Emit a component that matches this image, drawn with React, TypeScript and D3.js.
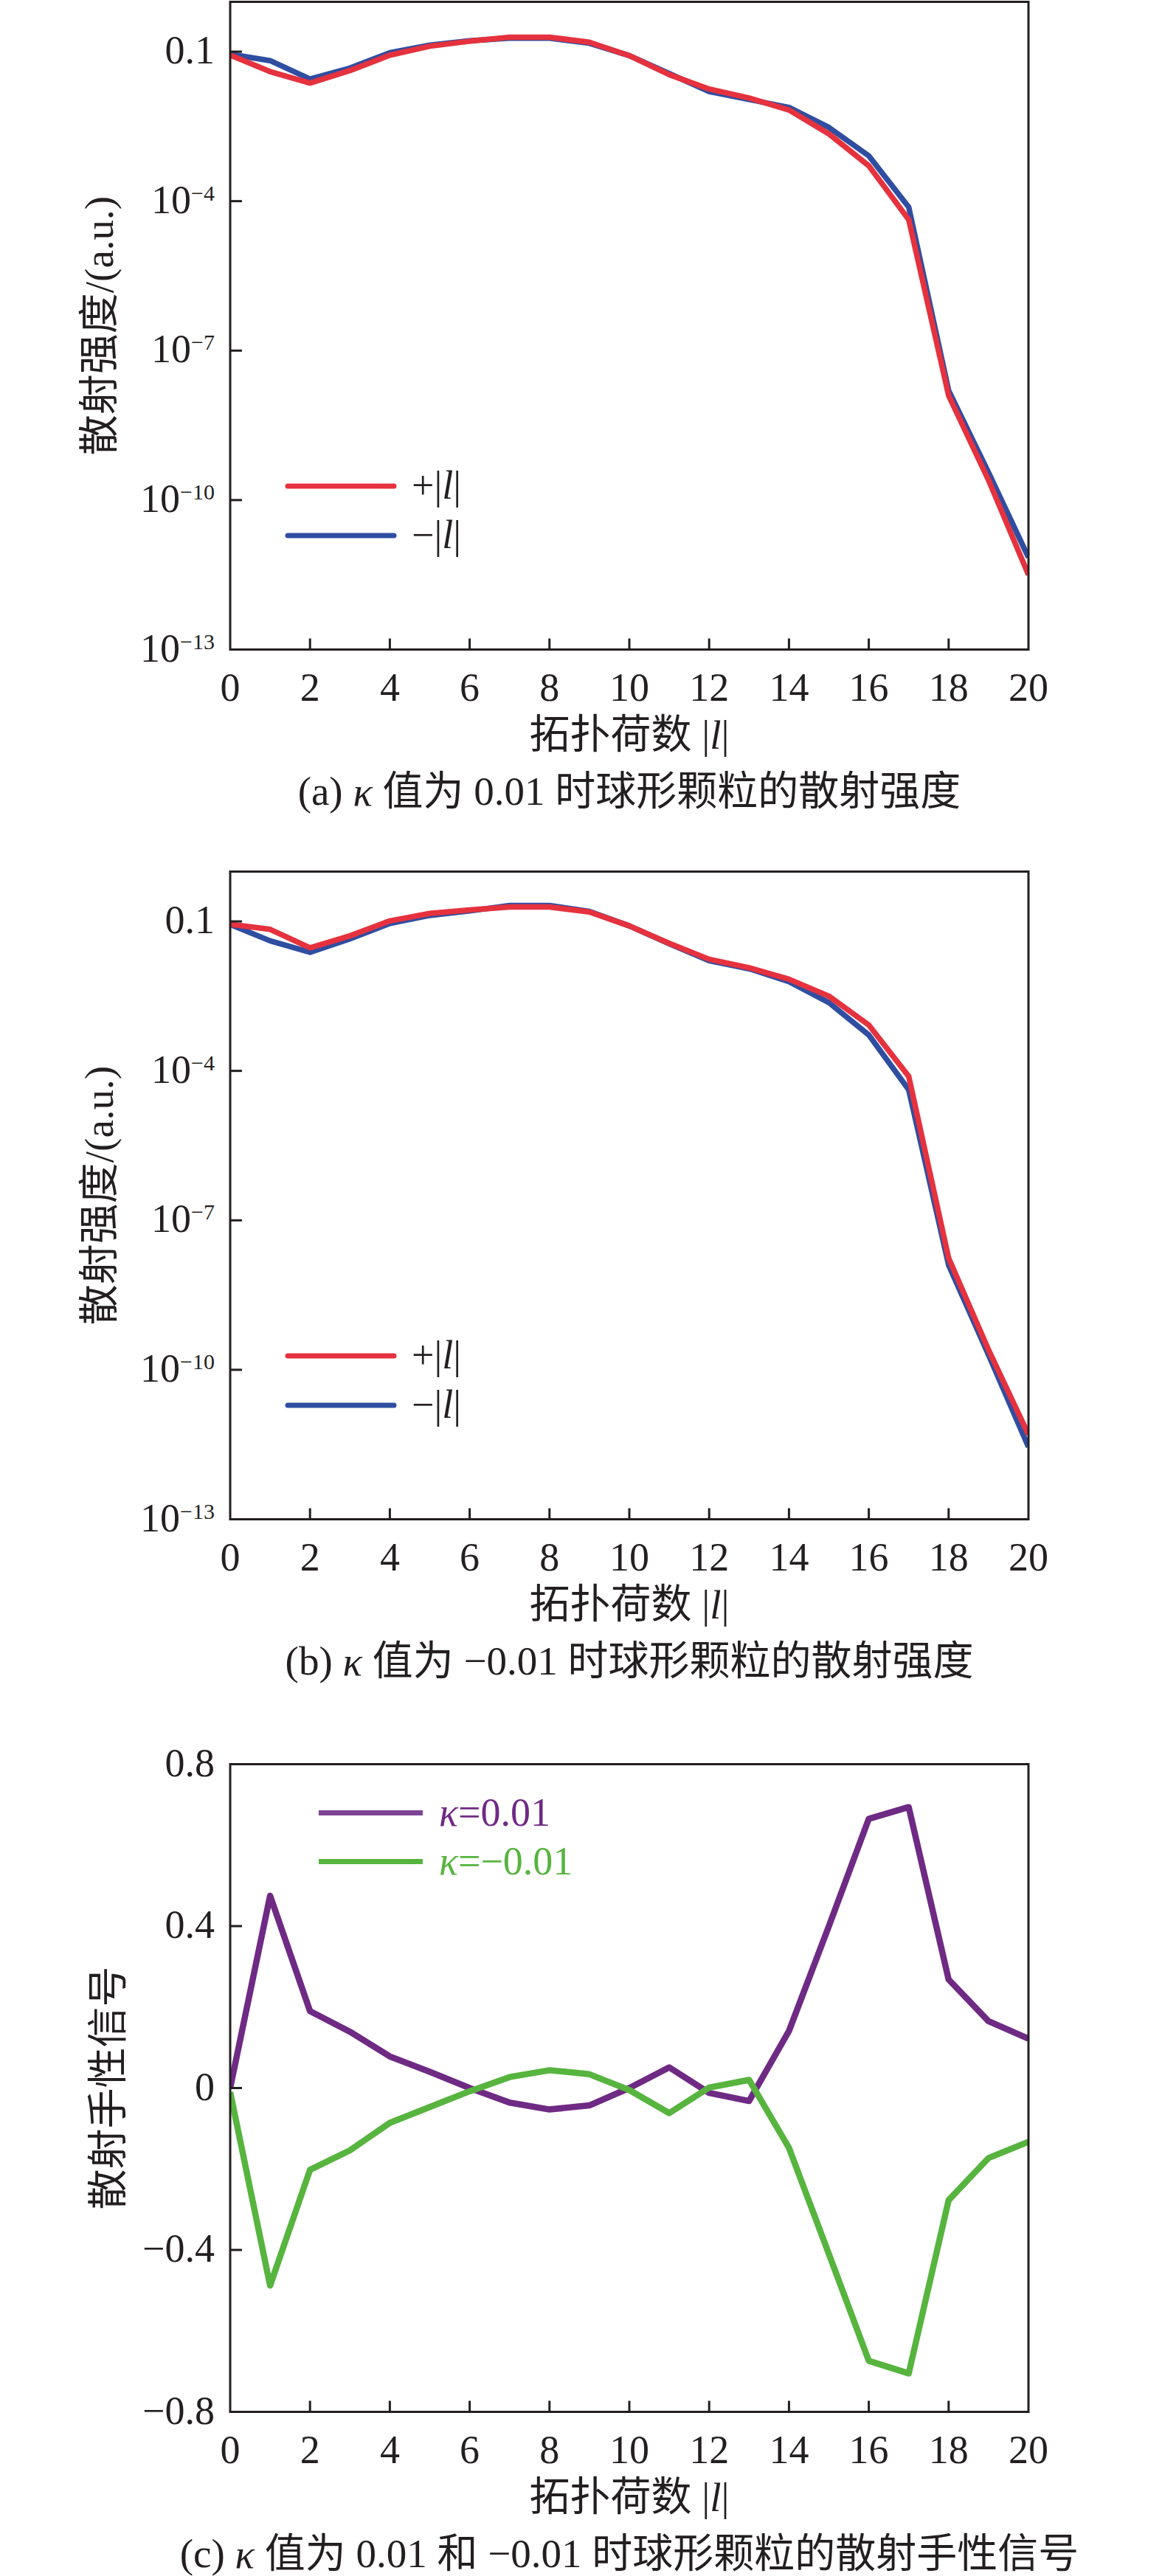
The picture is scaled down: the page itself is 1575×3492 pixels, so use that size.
import * as d3 from "d3";
import type { ReactNode } from "react";

// topological charge l = 0..20
const charges = d3.range(0, 21);
const xTickValues = [0, 2, 4, 6, 8, 10, 12, 14, 16, 18, 20];

// (a) kappa = 0.01, log10 of scattering intensity
const aPlusLog = [-1.07, -1.4, -1.63, -1.38, -1.07, -0.89, -0.79, -0.71, -0.71, -0.81, -1.08, -1.46, -1.75, -1.93, -2.17, -2.65, -3.29, -4.37, -7.9, -9.6, -11.5];
const aMinusLog = [-1.05, -1.18, -1.55, -1.33, -1.02, -0.87, -0.78, -0.73, -0.73, -0.83, -1.08, -1.44, -1.8, -1.96, -2.12, -2.52, -3.09, -4.12, -7.8, -9.45, -11.15];

// (b) kappa = -0.01
const bPlusLog = [-1.06, -1.16, -1.53, -1.29, -0.99, -0.84, -0.77, -0.71, -0.71, -0.81, -1.09, -1.44, -1.76, -1.93, -2.16, -2.5, -3.08, -4.11, -7.76, -9.6, -11.3];
const bMinusLog = [-1.06, -1.39, -1.62, -1.35, -1.04, -0.88, -0.79, -0.68, -0.68, -0.8, -1.09, -1.45, -1.79, -1.95, -2.21, -2.63, -3.28, -4.38, -7.9, -9.7, -11.55];

// (c) chirality signal
const cPos = [0.0, 0.475, 0.19, 0.139, 0.078, 0.04, 0.0, -0.036, -0.053, -0.043, 0.0, 0.051, -0.012, -0.032, 0.141, 0.4, 0.665, 0.694, 0.268, 0.165, 0.122];
const cNeg = [-0.01, -0.488, -0.202, -0.154, -0.086, -0.047, -0.008, 0.027, 0.044, 0.034, -0.005, -0.062, 0.001, 0.02, -0.148, -0.41, -0.674, -0.705, -0.277, -0.173, -0.133];

const logTickExps = [-1, -4, -7, -10, -13];
const linTicks = [0.8, 0.4, 0, -0.4, -0.8];

const INK = "#231f20";
const RED = "#e5323e";
const BLUE = "#2f4ea1";
const PURPLE = "#6f2a84";
const GREEN = "#57b43f";
const SERIF = "'Times New Roman', 'Liberation Serif', 'Noto Sans CJK SC', serif";

const LEFT = 312;
const RIGHT = 1394;
const PH = 878;
const FS = 54;

const x = d3.scaleLinear().domain([0, 20]).range([LEFT, RIGHT]);

interface Series {
  values: number[];
  color: string;
}

interface LegendItem {
  color: string;
  label: ReactNode;
  textColor: string;
  cap: "round" | "butt";
}

function Panel({
  id,
  top,
  y,
  yTicks,
  series,
  lineWidth,
  legend,
  legendX,
  legendY,
  legendGap,
  ylabel,
  ylabelX,
  caption,
}: {
  id: string;
  top: number;
  y: d3.ScaleContinuousNumeric<number, number>;
  yTicks: { v: number; label: ReactNode; inner: boolean }[];
  series: Series[];
  lineWidth: number;
  legend: LegendItem[];
  legendX: [number, number, number];
  legendY: number;
  legendGap: number;
  ylabel: string;
  ylabelX: number;
  caption: ReactNode;
}) {
  const bottom = top + PH;
  const line = d3
    .line<number>()
    .x((_, i) => x(charges[i]))
    .y((d) => y(d));
  return (
    <g>
      <defs>
        <clipPath id={id}>
          <rect x={LEFT} y={top} width={RIGHT - LEFT} height={PH} />
        </clipPath>
      </defs>
      <g clipPath={`url(#${id})`}>
        {series.map((s, i) => (
          <path
            key={i}
            d={line(s.values) ?? ""}
            fill="none"
            stroke={s.color}
            strokeWidth={lineWidth}
            strokeLinejoin="round"
          />
        ))}
      </g>
      <rect x={LEFT} y={top} width={RIGHT - LEFT} height={PH} fill="none" stroke={INK} strokeWidth={3} />
      {xTickValues.map((t) => (
        <g key={t}>
          {t > 0 && t < 20 && <line x1={x(t)} x2={x(t)} y1={bottom} y2={bottom - 15} stroke={INK} strokeWidth={3} />}
          <text x={x(t)} y={bottom + 69} textAnchor="middle" fontSize={FS} fill={INK}>
            {t}
          </text>
        </g>
      ))}
      {yTicks.map((t, i) => (
        <g key={i}>
          {t.inner && <line x1={LEFT} x2={LEFT + 16} y1={y(t.v)} y2={y(t.v)} stroke={INK} strokeWidth={3} />}
          <text x={291} y={y(t.v) + 16} textAnchor="end" fontSize={FS} fill={INK}>
            {t.label}
          </text>
        </g>
      ))}
      {legend.map((l, i) => {
        const ly = top + legendY + i * legendGap;
        return (
          <g key={i}>
            <line x1={legendX[0]} x2={legendX[1]} y1={ly} y2={ly} stroke={l.color} strokeWidth={7} strokeLinecap={l.cap} />
            <text x={legendX[2]} y={ly + 17} fontSize={FS} fill={l.textColor}>
              {l.label}
            </text>
          </g>
        );
      })}
      <text
        transform={`translate(${ylabelX},${top + PH / 2}) rotate(-90)`}
        textAnchor="middle"
        dominantBaseline="central"
        fontSize={55}
        fill={INK}
      >
        {ylabel}
      </text>
      <text x={(LEFT + RIGHT) / 2} y={bottom + 115} textAnchor="middle" dominantBaseline="central" fontSize={55} fill={INK}>
        {"拓扑荷数 |"}
        <tspan fontStyle="italic">l</tspan>
        {"|"}
      </text>
      <text x={(LEFT + RIGHT) / 2} y={bottom + 192} textAnchor="middle" dominantBaseline="central" fontSize={55} fill={INK}>
        {caption}
      </text>
    </g>
  );
}

function logLabel(e: number): ReactNode {
  if (e === -1) return "0.1";
  return (
    <>
      <tspan>10</tspan>
      <tspan fontSize={30} dy={-17}>
        {`−${-e}`}
      </tspan>
    </>
  );
}

function linLabel(v: number): string {
  if (v === 0) return "0";
  return (v < 0 ? "−" : "") + Math.abs(v).toFixed(1);
}

const absL = (
  <>
    {"|"}
    <tspan fontStyle="italic">l</tspan>
    {"|"}
  </>
);

export default function App() {
  const topA = 2.5;
  const topB = 1181.5;
  const topC = 2391.5;

  const yA = d3.scaleLog().domain([1e-13, 1]).range([topA + PH, topA]);
  const yB = d3.scaleLog().domain([1e-13, 1]).range([topB + PH, topB]);
  const yC = d3.scaleLinear().domain([-0.8, 0.8]).range([topC + PH, topC]);

  const logTicks = logTickExps.map((e) => ({ v: Math.pow(10, e), label: logLabel(e), inner: e !== -13 }));
  const pow = (arr: number[]) => arr.map((v) => Math.pow(10, v));

  const intensityLegend: LegendItem[] = [
    { color: RED, textColor: INK, cap: "round", label: <>{"+"}{absL}</> },
    { color: BLUE, textColor: INK, cap: "round", label: <>{"−"}{absL}</> },
  ];

  return (
    <svg
      width={1575}
      height={3492}
      style={{ position: "absolute", left: 0, top: 0, background: "#fff" }}
      fontFamily={SERIF}
    >
      <Panel
        id="clipA"
        top={topA}
        y={yA}
        yTicks={logTicks}
        series={[
          { values: pow(aMinusLog), color: BLUE },
          { values: pow(aPlusLog), color: RED },
        ]}
        lineWidth={7.5}
        legend={intensityLegend}
        legendX={[390, 534, 558]}
        legendY={656.5}
        legendGap={67}
        ylabel="散射强度/(a.u.)"
        ylabelX={134}
        caption={
          <>
            {"(a) "}
            <tspan fontStyle="italic">κ</tspan>
            {" 值为 0.01 时球形颗粒的散射强度"}
          </>
        }
      />
      <Panel
        id="clipB"
        top={topB}
        y={yB}
        yTicks={logTicks}
        series={[
          { values: pow(bMinusLog), color: BLUE },
          { values: pow(bPlusLog), color: RED },
        ]}
        lineWidth={7.5}
        legend={intensityLegend}
        legendX={[390, 534, 558]}
        legendY={656.5}
        legendGap={67}
        ylabel="散射强度/(a.u.)"
        ylabelX={134}
        caption={
          <>
            {"(b) "}
            <tspan fontStyle="italic">κ</tspan>
            {" 值为 −0.01 时球形颗粒的散射强度"}
          </>
        }
      />
      <Panel
        id="clipC"
        top={topC}
        y={yC}
        yTicks={linTicks.map((v) => ({ v, label: linLabel(v), inner: Math.abs(v) < 0.8 }))}
        series={[
          { values: cPos, color: PURPLE },
          { values: cNeg, color: GREEN },
        ]}
        lineWidth={8.5}
        legend={[
          {
            color: "#7d4495",
            textColor: PURPLE,
            cap: "butt",
            label: (
              <>
                <tspan fontStyle="italic">κ</tspan>
                {"=0.01"}
              </>
            ),
          },
          {
            color: GREEN,
            textColor: GREEN,
            cap: "butt",
            label: (
              <>
                <tspan fontStyle="italic">κ</tspan>
                {"=−0.01"}
              </>
            ),
          },
        ]}
        legendX={[432, 573, 595]}
        legendY={66}
        legendGap={66}
        ylabel="散射手性信号"
        ylabelX={146}
        caption={
          <>
            {"(c) "}
            <tspan fontStyle="italic">κ</tspan>
            {" 值为 0.01 和 −0.01 时球形颗粒的散射手性信号"}
          </>
        }
      />
    </svg>
  );
}
